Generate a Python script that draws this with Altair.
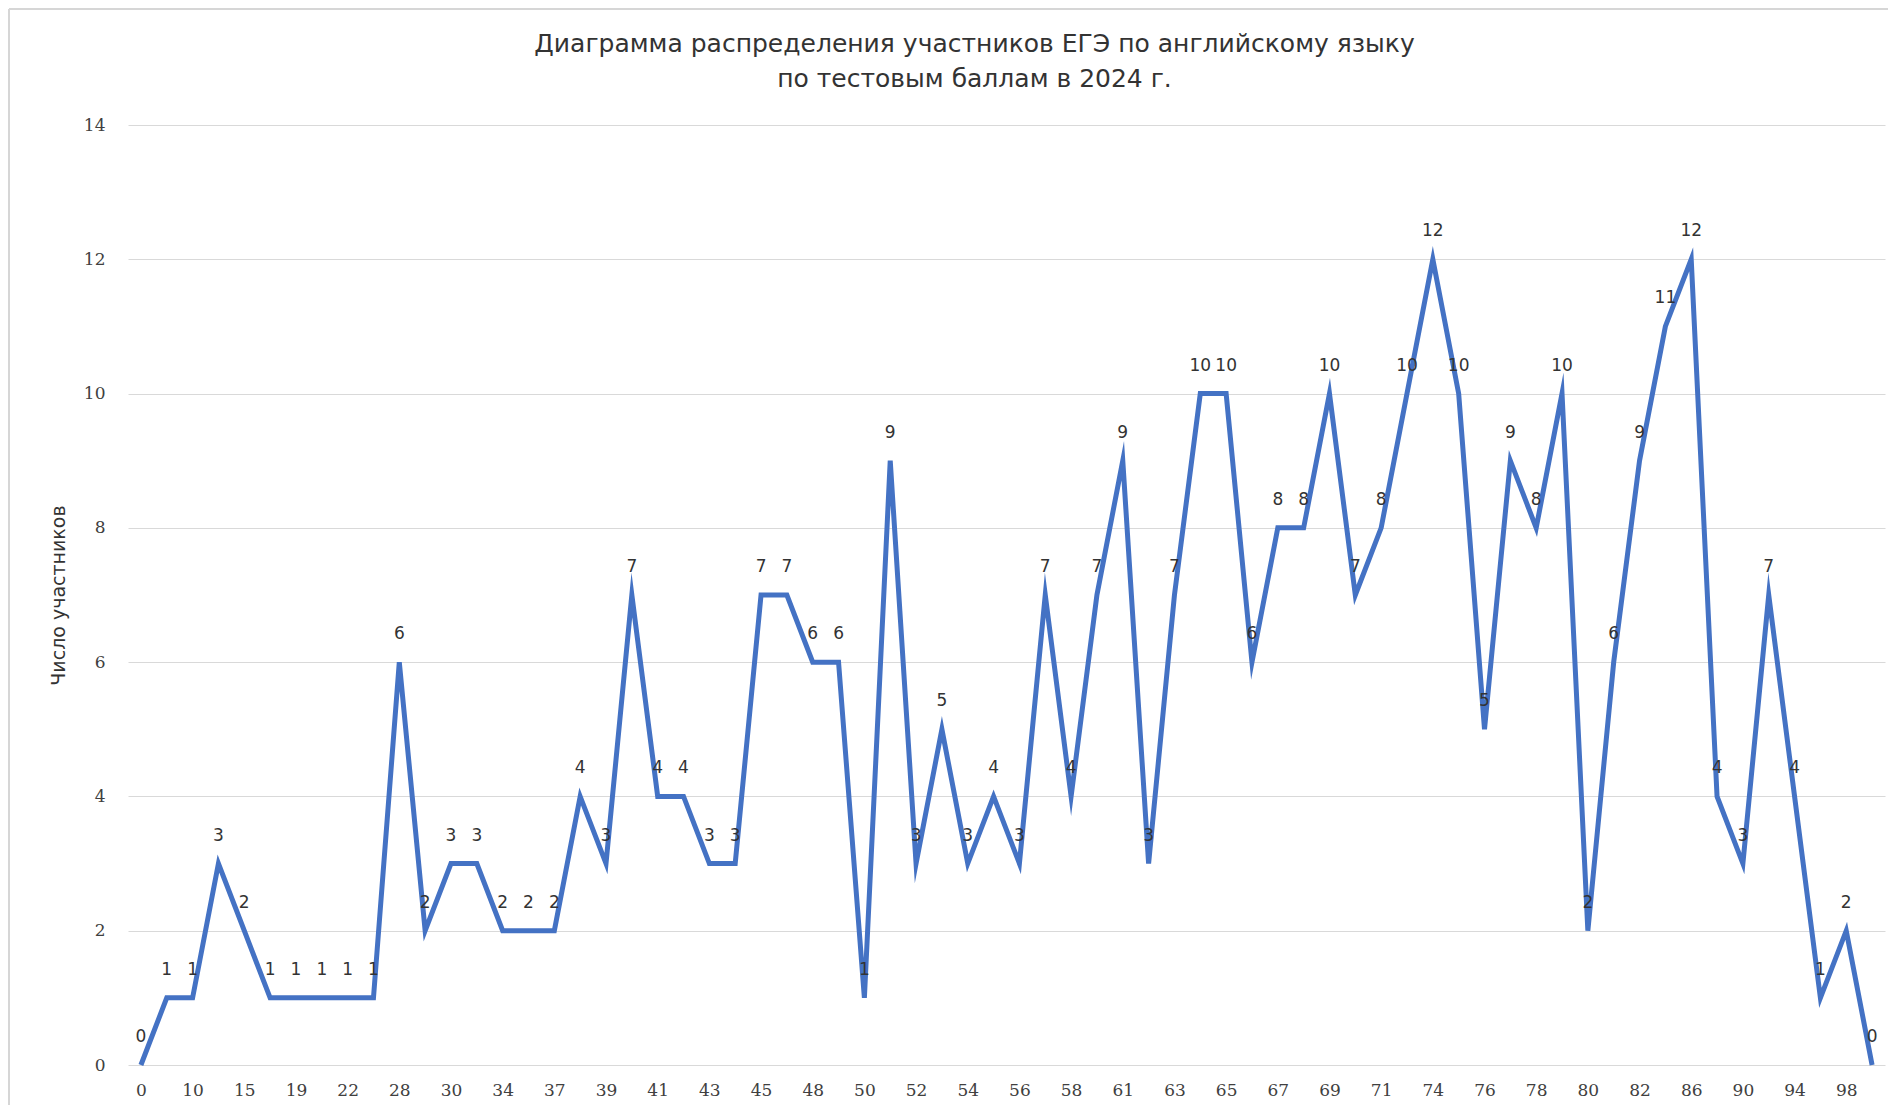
import altair as alt
import pandas as pd

# test score categories (every other one is shown on the axis)
scores = [0, 6, 10, 13, 15, 17, 19, 21, 22, 26, 28, 29, 30, 32, 34, 36, 37, 38, 39, 40,
          41, 42, 43, 44, 45, 47, 48, 49, 50, 51, 52, 53, 54, 55, 56, 57, 58, 60, 61, 62,
          63, 64, 65, 66, 67, 68, 69, 70, 71, 72, 74, 75, 76, 77, 78, 79, 80, 81, 82, 84,
          86, 88, 90, 92, 94, 96, 98, 100]
counts = [0, 1, 1, 3, 2, 1, 1, 1, 1, 1, 6, 2, 3, 3, 2, 2, 2, 4, 3, 7,
          4, 4, 3, 3, 7, 7, 6, 6, 1, 9, 3, 5, 3, 4, 3, 7, 4, 7, 9, 3,
          7, 10, 10, 6, 8, 8, 10, 7, 8, 10, 12, 10, 5, 9, 8, 10, 2, 6, 9, 11,
          12, 4, 3, 7, 4, 1, 2, 0]
tick_labels = ["0", "10", "15", "19", "22", "28", "30", "34", "37", "39", "41", "43", "45",
               "48", "50", "52", "54", "56", "58", "61", "63", "65", "67", "69", "71", "74",
               "76", "78", "80", "82", "86", "90", "94", "98"]
y_ticks = [0, 2, 4, 6, 8, 10, 12, 14]

title_lines = ["Диаграмма распределения участников ЕГЭ по английскому языку",
               "по тестовым баллам в 2024 г."]
y_title = "Число участников"

df = pd.DataFrame({"score": [str(s) for s in scores], "count": counts})
order = [str(s) for s in scores]

x_enc = alt.X("score:O", sort=order,
              scale=alt.Scale(type="point", padding=0.5),
              axis=alt.Axis(values=tick_labels, labelAngle=0, ticks=False, tickSize=0,
                            domain=False, grid=False, title=None,
                            labelFont="DejaVu Serif", labelFontSize=17,
                            labelColor="#404040", labelPadding=17))
y_enc = alt.Y("count:Q", scale=alt.Scale(domain=[0, 14], nice=False),
              axis=alt.Axis(values=y_ticks, ticks=False, tickSize=0, domain=False,
                            grid=True, gridColor="#d9d9d9", gridWidth=1.2,
                            labelFont="DejaVu Serif", labelFontSize=17,
                            labelColor="#404040", labelPadding=23,
                            title=y_title, titleFont="DejaVu Sans", titleFontSize=19,
                            titleFontWeight="normal", titleColor="#333333",
                            titleX=-70, titleY=470, titleBaseline="middle",
                            titleAngle=270))

base = alt.Chart(df).encode(x=x_enc, y=y_enc)

line = base.mark_line(color="#4472C4", strokeWidth=5, strokeJoin="miter",
                      strokeMiterLimit=10)
labels = base.mark_text(dy=-28, baseline="middle", align="center",
                        font="DejaVu Sans", fontSize=17, color="#333333").encode(
    text="count:Q")

# faint outer frame of the chart area (top and left edges)
frame_top = alt.Chart(df).mark_rule(color="#d6d6d6", strokeWidth=2).encode(
    x=alt.value(-119), x2=alt.value(1760), y=alt.value(-116))
frame_left = alt.Chart(df).mark_rule(color="#d6d6d6", strokeWidth=2).encode(
    x=alt.value(-119), y=alt.value(-116), y2=alt.value(990))

chart = alt.layer(frame_top, frame_left, line, labels).properties(
    width=1757, height=940,
    background="white",
    title=alt.TitleParams(text=title_lines, font="DejaVu Sans", fontSize=25,
                          fontWeight="normal", color="#333333", lineHeight=35,
                          anchor="middle", frame="group", dx=-32, offset=-84),
    autosize=alt.AutoSizeParams(type="none"),
    padding={"left": 120, "top": 117, "right": 4, "bottom": 40},
).configure_view(stroke=None, strokeWidth=0)

chart.save("out.html", embed_options={"renderer": "svg", "actions": False})
